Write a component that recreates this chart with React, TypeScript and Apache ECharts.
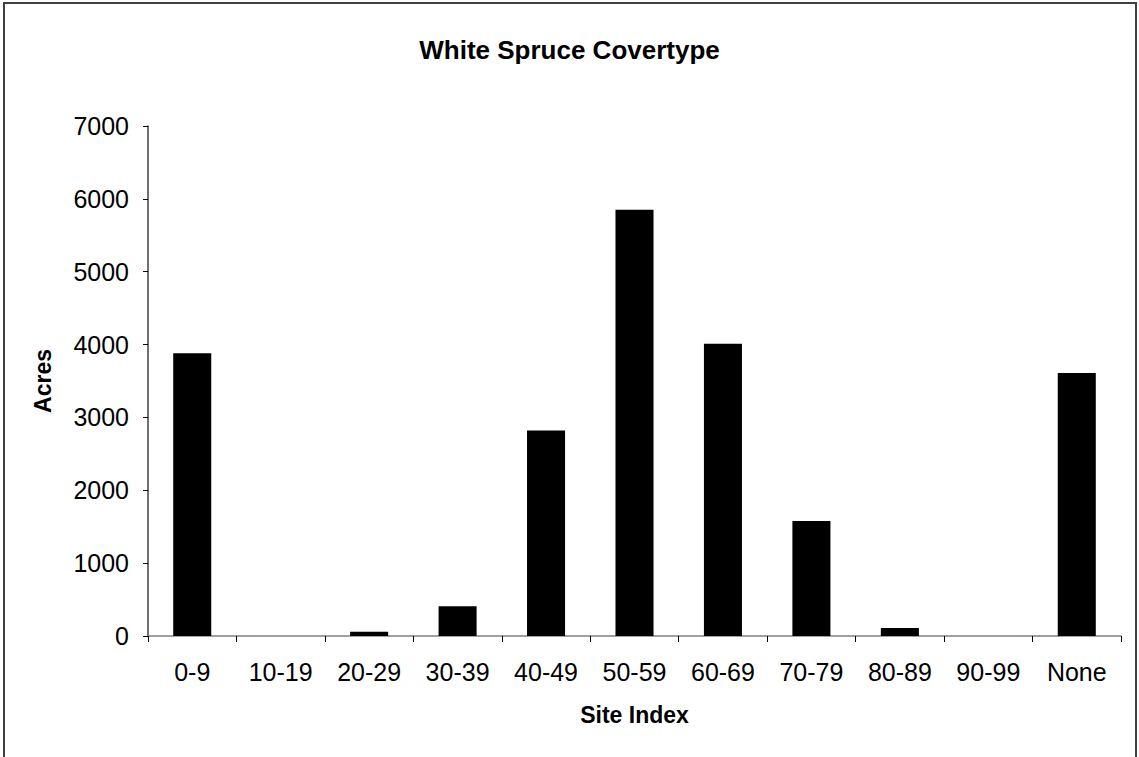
import React, { useEffect, useRef } from "react";
import * as echarts from "echarts";

const categories = ["0-9", "10-19", "20-29", "30-39", "40-49", "50-59", "60-69", "70-79", "80-89", "90-99", "None"];
const acres = [3880, 0, 60, 410, 2820, 5850, 4010, 1580, 110, 0, 3610];
const yTicks = { min: 0, max: 7000, interval: 1000 };

const FONT = "'Liberation Sans', Arial, sans-serif";

export default function App() {
  const ref = useRef<HTMLDivElement>(null);
  useEffect(() => {
    document.body.style.margin = "0";
    const chart = echarts.init(ref.current!, null, { renderer: "svg" });
    chart.setOption({
      animation: false,
      backgroundColor: "#ffffff",
      title: {
        text: "White Spruce Covertype",
        left: "center",
        top: 32,
        textStyle: { fontFamily: FONT, fontSize: 26, fontWeight: "bold", color: "#000" },
      },
      graphic: [
        {
          type: "rect",
          shape: { x: 4, y: 3, width: 1132, height: 760 },
          style: { fill: "none", stroke: "#404040", lineWidth: 2 },
          silent: true,
        },
      ],
      grid: { left: 148, right: 18, top: 126, bottom: 121 },
      xAxis: {
        type: "category",
        data: categories,
        name: "Site Index",
        nameLocation: "middle",
        nameGap: 67,
        nameTextStyle: { fontFamily: FONT, fontSize: 23, fontWeight: "bold", color: "#000" },
        axisLine: { lineStyle: { color: "#808080", width: 1.5 } },
        axisTick: { show: true, alignWithLabel: false, length: 6, lineStyle: { color: "#000" } },
        axisLabel: { fontFamily: FONT, fontSize: 25, color: "#000", margin: 23, interval: 0 },
        splitLine: { show: false },
      },
      yAxis: {
        type: "value",
        min: yTicks.min,
        max: yTicks.max,
        interval: yTicks.interval,
        name: "Acres",
        nameLocation: "middle",
        nameGap: 94,
        nameTextStyle: { fontFamily: FONT, fontSize: 23, fontWeight: "bold", color: "#000" },
        axisLine: { show: true, lineStyle: { color: "#404040", width: 1.5 } },
        axisTick: { show: true, length: 5, lineStyle: { color: "#000" } },
        axisLabel: { fontFamily: FONT, fontSize: 25, color: "#000", margin: 19, formatter: (v: number) => String(v) },
        splitLine: { show: false },
      },
      series: [
        {
          type: "bar",
          data: acres,
          barWidth: "43%",
          itemStyle: { color: "#000000" },
        },
      ],
    });
    return () => chart.dispose();
  }, []);
  return <div ref={ref} style={{ width: 1139, height: 757 }} />;
}
